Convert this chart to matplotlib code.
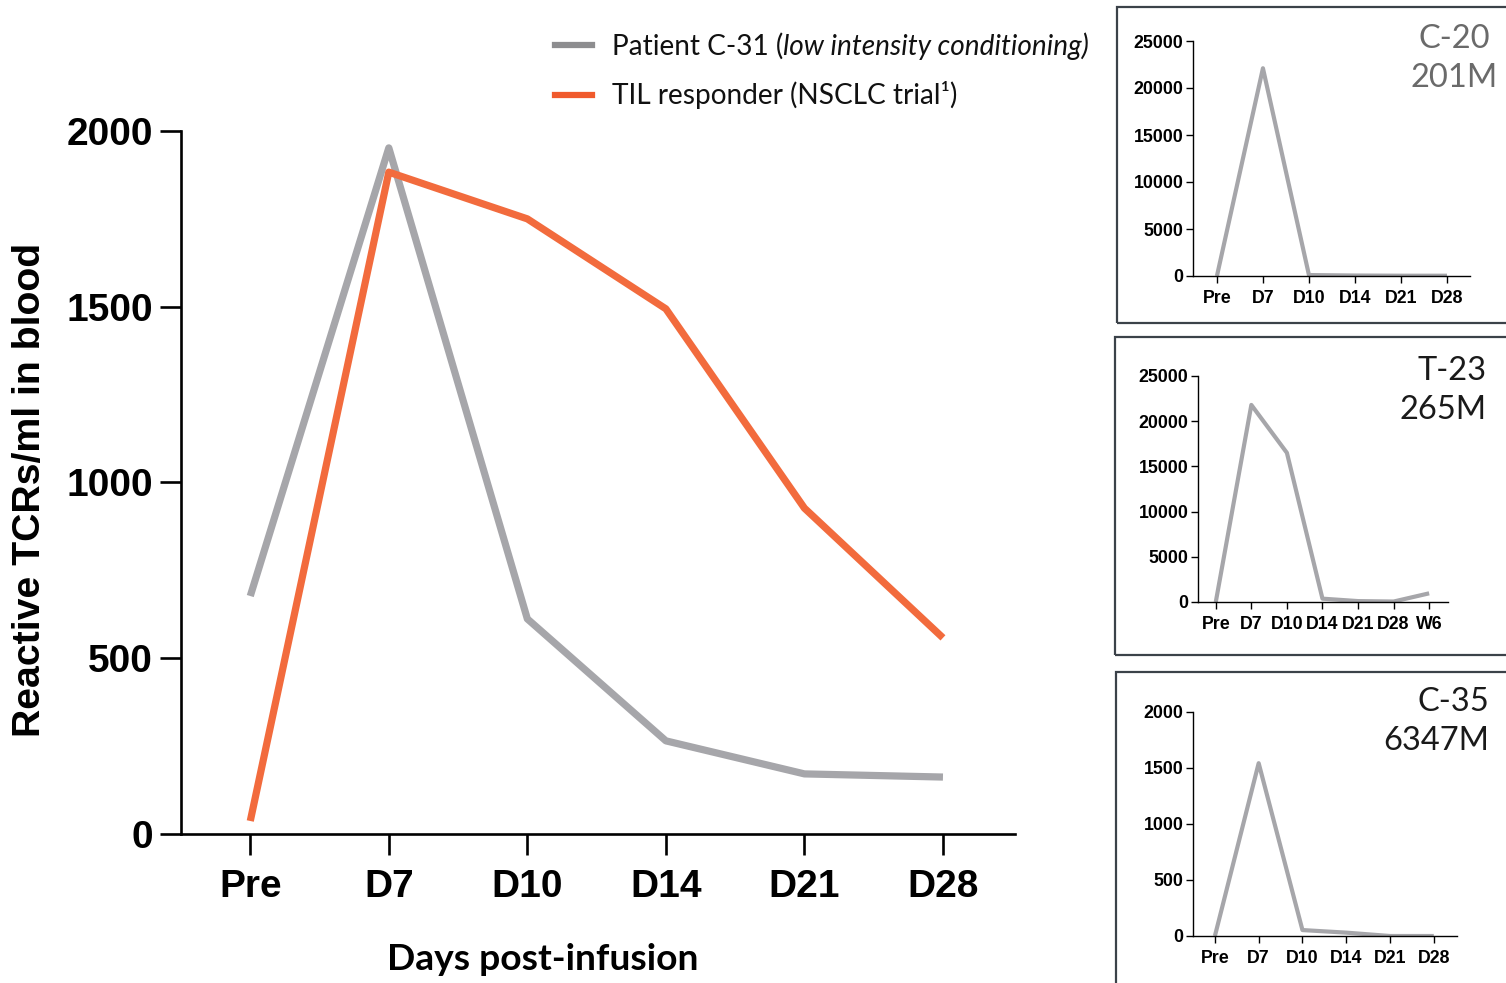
import matplotlib
matplotlib.use("Agg")
import matplotlib.pyplot as plt
from matplotlib.patches import Rectangle
from matplotlib.lines import Line2D

# ---------------- data ----------------
days_main = ["Pre", "D7", "D10", "D14", "D21", "D28"]
patient_c31 = [677, 1952, 612, 265, 171, 162]
til_responder = [37, 1883, 1750, 1494, 927, 558]

days_c20 = ["Pre", "D7", "D10", "D14", "D21", "D28"]
c20_values = [0, 22100, 100, 50, 30, 30]

days_t23 = ["Pre", "D7", "D10", "D14", "D21", "D28", "W6"]
t23_values = [0, 21800, 16500, 370, 100, 50, 960]

days_c35 = ["Pre", "D7", "D10", "D14", "D21", "D28"]
c35_values = [0, 1543, 53, 30, 0, 0]

GREY = "#a6a6aa"
ORANGE = "#f26b3d"
W, H = 1506, 983

fig = plt.figure(figsize=(15.06, 9.83), dpi=100)
fig.patch.set_facecolor("white")

def fx(px):
    return px / W

def fy(py):
    return 1 - py / H

ARIAL = "Liberation Sans"

# ---------------- main axes ----------------
ax = fig.add_axes([fx(181), fy(834), fx(1015) - fx(181), fy(131) - fy(834)])
x = list(range(len(days_main)))
ax.plot(x, patient_c31, color=GREY, lw=5.2, solid_capstyle="butt", zorder=3)
ax.plot(x, til_responder, color=ORANGE, lw=5.2, solid_capstyle="butt", zorder=4)
ax.set_xlim(-0.5, 5.52)
ax.set_ylim(0, 2000)
ax.set_yticks([0, 500, 1000, 1500, 2000])
ax.set_xticks(x)
ax.set_xticklabels(days_main)
for s in ["top", "right"]:
    ax.spines[s].set_visible(False)
for s in ["left", "bottom"]:
    ax.spines[s].set_linewidth(1.9)
ax.tick_params(axis="both", width=1.9, length=15, color="black")
ax.tick_params(axis="y", pad=5)
ax.tick_params(axis="x", pad=10)
for lbl in ax.get_xticklabels() + ax.get_yticklabels():
    lbl.set_fontfamily(ARIAL)
    lbl.set_fontweight("bold")
    lbl.set_fontsize(28)
ax.set_ylabel("Reactive TCRs/ml in blood", fontfamily=ARIAL, fontweight="bold",
              fontsize=28.3)
ax.yaxis.set_label_coords(-0.16, 0.49)
fig.text(fx(543), fy(960), "Days post-infusion", fontfamily="Lato", fontweight="bold",
         fontsize=26.8, ha="center", va="center")

# ---------------- legend (manual, mixed styles) ----------------
fig.add_artist(Line2D([fx(555), fx(592)], [fy(45), fy(45)], color="#8d8d8f", lw=4.5,
                      transform=fig.transFigure))
fig.add_artist(Line2D([fx(555), fx(592)], [fy(95), fy(95)], color="#f05a2c", lw=4.5,
                      transform=fig.transFigure))
renderer = fig.canvas.get_renderer()
LEG_FS = 20.2
t1 = fig.text(fx(612), fy(46), "Patient C-31 (", fontfamily="Lato", fontsize=LEG_FS,
              ha="left", va="center", color="#111111")
bb = t1.get_window_extent(renderer)
t2 = fig.text(bb.x1 / fig.bbox.width, fy(46), "low intensity conditioning)",
              fontfamily="Lato", fontstyle="italic", fontsize=LEG_FS,
              ha="left", va="center", color="#111111")
fig.text(fx(612), fy(95), "TIL responder (NSCLC trial\u00b9)", fontfamily="Lato",
         fontsize=LEG_FS, ha="left", va="center", color="#111111")

# ---------------- insets ----------------
def frame(x0, y0, x1, y1):
    fig.add_artist(Rectangle((fx(x0), fy(y1)), fx(x1) - fx(x0), fy(y0) - fy(y1),
                             transform=fig.transFigure, fill=False,
                             edgecolor="#3b4249", lw=1.6))

def inset(rect_px, labels, values, ymax, yticks, xlim, title, title_color, title_xy, align):
    l, r, t, b = rect_px
    a = fig.add_axes([fx(l), fy(b), fx(r) - fx(l), fy(t) - fy(b)])
    xi = list(range(len(labels)))
    a.plot(xi, values, color=GREY, lw=3.0, solid_capstyle="butt")
    a.set_xlim(*xlim)
    a.set_ylim(0, ymax)
    a.set_yticks(yticks)
    a.set_xticks(xi)
    a.set_xticklabels(labels)
    for s in ["top", "right"]:
        a.spines[s].set_visible(False)
    for s in ["left", "bottom"]:
        a.spines[s].set_linewidth(1.0)
    a.tick_params(axis="both", width=1.0, length=5)
    a.tick_params(axis="y", pad=2)
    a.tick_params(axis="x", pad=5)
    for lbl in a.get_xticklabels() + a.get_yticklabels():
        lbl.set_fontfamily(ARIAL)
        lbl.set_fontweight("bold")
        lbl.set_fontsize(12.8)
    fig.text(fx(title_xy[0]), fy(title_xy[1]), title, fontfamily="Lato", fontsize=23.5,
             color=title_color, ha=align, va="top", ma=align, linespacing=1.38)
    return a

frame(1117, 7, 1540, 323)
inset((1193, 1470, 41, 276), days_c20, c20_values, 25000,
      [0, 5000, 10000, 15000, 20000, 25000], (-0.52, 5.5),
      "C-20\n201M", "#6a6a6a", (1454, 24), "center")

frame(1115, 337, 1540, 655)
inset((1198, 1448, 376, 602), days_t23, t23_values, 25000,
      [0, 5000, 10000, 15000, 20000, 25000], (-0.5, 6.53),
      "T-23\n265M", "#1a1a1a", (1487, 356), "right")

frame(1116, 672, 1540, 1020)
inset((1193, 1457, 712, 936), days_c35, c35_values, 2000,
      [0, 500, 1000, 1500, 2000], (-0.5, 5.53),
      "C-35\n6347M", "#1a1a1a", (1489, 687), "right")

fig.savefig("out.png", dpi=100, facecolor="white")
